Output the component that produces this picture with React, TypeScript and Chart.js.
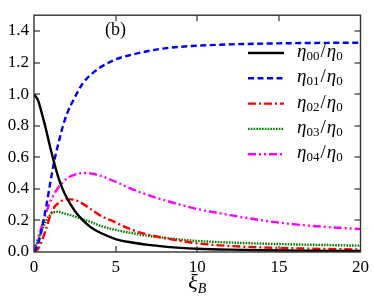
import React, { useEffect, useRef } from "react";
import { Chart, registerables } from "chart.js";

Chart.register(...registerables);

const xs = [0, 0.25, 0.5, 0.75, 1, 1.25, 1.5, 1.75, 2, 2.5, 3, 3.5, 4, 5, 6, 7, 8, 9, 10, 12, 14, 16, 18, 20];
const eta00 = [1.0, 0.96, 0.87, 0.77, 0.66, 0.56, 0.47, 0.4, 0.345, 0.26, 0.2, 0.155, 0.125, 0.082, 0.06, 0.045, 0.034, 0.026, 0.021, 0.015, 0.011, 0.009, 0.007, 0.006];
const eta01 = [0, 0.05, 0.16, 0.29, 0.44, 0.58, 0.69, 0.79, 0.87, 0.98, 1.07, 1.125, 1.165, 1.22, 1.25, 1.273, 1.29, 1.3, 1.307, 1.315, 1.32, 1.323, 1.325, 1.326];
const eta02 = [0, 0.02, 0.075, 0.15, 0.23, 0.285, 0.31, 0.327, 0.335, 0.33, 0.305, 0.27, 0.235, 0.187, 0.14, 0.11, 0.088, 0.07, 0.055, 0.038, 0.029, 0.023, 0.019, 0.016];
const eta03 = [0, 0.075, 0.14, 0.2, 0.237, 0.252, 0.255, 0.248, 0.24, 0.225, 0.207, 0.19, 0.168, 0.14, 0.12, 0.102, 0.09, 0.078, 0.07, 0.06, 0.053, 0.048, 0.044, 0.04];
const eta04 = [0, 0.09, 0.17, 0.25, 0.32, 0.37, 0.41, 0.44, 0.465, 0.49, 0.5, 0.497, 0.485, 0.445, 0.398, 0.36, 0.328, 0.298, 0.272, 0.234, 0.2, 0.175, 0.158, 0.145];
const seriesSubs = ["00", "01", "02", "03", "04"];
const xTicks = [0, 5, 10, 15, 20];
const yTicks = [0, 0.2, 0.4, 0.6, 0.8, 1.0, 1.2, 1.4];

const colors = ["#000000", "#0000ff", "#ff0000", "#008000", "#ff00ff"];
const widths = [2.4, 2.4, 2.4, 2.4, 2.4];
const dashes: number[][] = [[], [6, 3.5], [8, 3, 2, 3], [1.6, 1.2], [8, 3, 2, 3, 2, 3]];

const SERIF = "'Liberation Serif', 'DejaVu Serif', serif";

const framePlugin = {
  id: "frameTicks",
  afterDraw(chart: any) {
    const { ctx, chartArea: a, scales } = chart;
    const x = scales.x;
    const y = scales.y;
    ctx.save();
    ctx.setLineDash([]);
    ctx.strokeStyle = "#333";
    ctx.lineWidth = 1.4;
    ctx.strokeRect(a.left, a.top, a.right - a.left, a.bottom - a.top);
    const L = 6;
    ctx.fillStyle = "#333";
    for (const v of xTicks) {
      if (v === 0 || v === 20) continue;
      const px = Math.round(x.getPixelForValue(v));
      ctx.fillRect(px - 0.6, a.bottom - L, 1.2, L);
      ctx.fillRect(px - 0.6, a.top, 1.2, L);
    }
    for (const v of yTicks) {
      if (v === 0) continue;
      const py = Math.round(y.getPixelForValue(v));
      ctx.fillRect(a.left, py - 0.6, L, 1.2);
      ctx.fillRect(a.right - L, py - 0.6, L, 1.2);
    }

    // panel label
    ctx.fillStyle = "#000";
    ctx.font = `18px ${SERIF}`;
    ctx.textBaseline = "middle";
    ctx.textAlign = "left";
    ctx.fillText("(b)", 105, 30);

    // legend
    const lx0 = 248, lx1 = 284, tx = 297;
    const y0 = 53, dy = 25.3;
    seriesSubs.forEach((s, i) => {
      const yy = y0 + i * dy;
      ctx.save();
      ctx.strokeStyle = colors[i];
      ctx.lineWidth = widths[i];
      ctx.setLineDash(dashes[i]);
      ctx.beginPath();
      ctx.moveTo(lx0, yy);
      ctx.lineTo(lx1, yy);
      ctx.stroke();
      ctx.restore();
      let cx = tx;
      const base = yy + 4;
      ctx.textBaseline = "alphabetic";
      ctx.font = `italic 19px ${SERIF}`;
      ctx.fillText("η", cx, base);
      cx += ctx.measureText("η").width;
      ctx.font = `13px ${SERIF}`;
      ctx.fillText(s, cx, base + 3);
      cx += ctx.measureText(s).width + 1;
      ctx.font = `19px ${SERIF}`;
      ctx.fillText("/", cx, base);
      cx += ctx.measureText("/").width + 1;
      ctx.font = `italic 19px ${SERIF}`;
      ctx.fillText("η", cx, base);
      cx += ctx.measureText("η").width;
      ctx.font = `13px ${SERIF}`;
      ctx.fillText("0", cx, base + 3);
    });

    // x axis title
    const cxm = (a.left + a.right) / 2;
    ctx.font = `italic 22px ${SERIF}`;
    const w1 = ctx.measureText("ξ").width;
    ctx.font = `italic 14px ${SERIF}`;
    const w2 = ctx.measureText("B").width;
    const sx = cxm - (w1 + w2) / 2;
    ctx.font = `italic 22px ${SERIF}`;
    ctx.fillText("ξ", sx, 289);
    ctx.font = `italic 14px ${SERIF}`;
    ctx.fillText("B", sx + w1, 293);
    ctx.restore();
  },
};

export default function App() {
  const ref = useRef<HTMLCanvasElement | null>(null);
  useEffect(() => {
    document.body.style.margin = "0";
    const all = [eta00, eta01, eta02, eta03, eta04];
    const chart = new Chart(ref.current as HTMLCanvasElement, {
      type: "line",
      data: {
        datasets: all.map((arr, i) => ({
          label: "η" + seriesSubs[i] + "/η0",
          data: xs.map((x, j) => ({ x, y: arr[j] })),
          borderColor: colors[i],
          borderWidth: widths[i],
          borderDash: dashes[i],
          pointRadius: 0,
          fill: false,
          cubicInterpolationMode: "monotone" as const,
        })),
      },
      options: {
        animation: false,
        responsive: false,
        maintainAspectRatio: false,
        layout: { padding: { top: 5, right: 13, left: 0, bottom: 0 } },
        plugins: { legend: { display: false }, tooltip: { enabled: false } },
        scales: {
          x: {
            type: "linear",
            min: 0,
            max: 20,
            grid: { display: false, drawTicks: false },
            border: { display: false },
            afterFit(scale: any) {
              scale.height = 56;
            },
            afterBuildTicks(scale: any) {
              scale.ticks = xTicks.map((v) => ({ value: v }));
            },
            ticks: {
              color: "#000",
              font: { family: SERIF, size: 17 },
              padding: 5,
              maxRotation: 0,
              callback: (v: any) => String(v),
            },
          },
          y: {
            type: "linear",
            min: 0,
            max: 1.5,
            grid: { display: false, drawTicks: false },
            border: { display: false },
            afterFit(scale: any) {
              scale.width = 34;
            },
            afterBuildTicks(scale: any) {
              scale.ticks = yTicks.map((v) => ({ value: v }));
            },
            ticks: {
              color: "#000",
              font: { family: SERIF, size: 17 },
              padding: 5,
              callback: (v: any) => Number(v).toFixed(1),
            },
          },
        },
      },
      plugins: [framePlugin],
    });
    return () => chart.destroy();
  }, []);
  return (
    <div style={{ width: 374, height: 308 }}>
      <canvas ref={ref} width={374} height={308} style={{ display: "block" }} />
    </div>
  );
}
